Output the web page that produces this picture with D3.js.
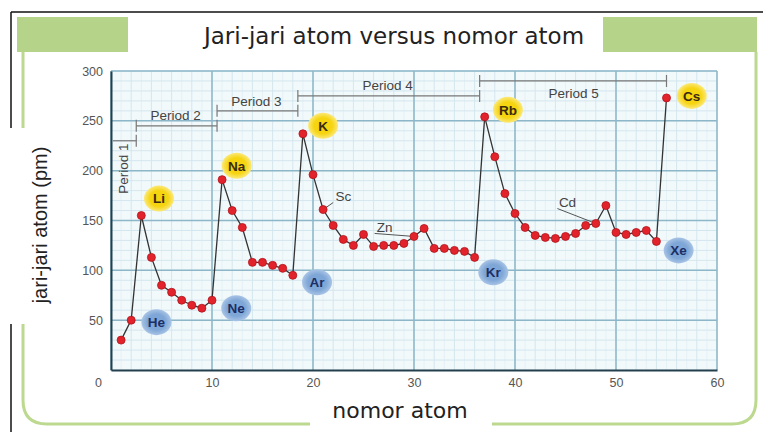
<!DOCTYPE html>
<html><head><meta charset="utf-8">
<script src="https://cdn.jsdelivr.net/npm/d3@7"></script>
<style>html,body{margin:0;padding:0;background:#fff;}svg{display:block;}</style>
</head><body>
<script>
// ---- data ----
const atomicNumbers = d3.range(1, 56);
const radii = [30,50, 155,113,85,78,70,65,62,70, 191,160,143,108,108,105,102,95,
  237,196,161,145,131,125,136,124,125,125,127,134,142,122,122,120,119,113,
  254,214,177,157,143,135,133,132,134,137,145,147,165,138,136,138,140,129,273];
const xTicks = [0,10,20,30,40,50,60];
const yTicks = [50,100,150,200,250,300];
const periodNames = ["Period 1","Period 2","Period 3","Period 4","Period 5"];
const periodStart = [0.2,2.5,10.5,18.5,36.5];
const periodEnd   = [2.5,10.5,18.5,36.5,55];
const periodLevel = [230,245,260,275,290];
const alkaliSymbols = ["Li","Na","K","Rb","Cs"];
const nobleSymbols = ["He","Ne","Ar","Kr","Xe"];
const otherSymbols = ["Sc","Zn","Cd"];
const otherZ = [21,30,48];

// label anchor positions (data coordinates) — layout only
const alkaliPos = [[4.75,172],[12.45,205],[21.0,245],[39.3,261],[57.5,275]];
const noblePos  = [[4.5,48],[12.4,62],[20.4,88],[37.85,98],[56.2,120]];
const otherPos  = [[23.0,174],[27.1,143],[45.2,168]];

const W = 763, H = 432;
const svg = d3.select("body").append("svg").attr("width", W).attr("height", H);

// frame
svg.append("line").attr("x1",11).attr("x2",W).attr("y1",12).attr("y2",12).attr("stroke","#111").attr("stroke-width",1.5);
svg.append("line").attr("x1",11).attr("x2",11).attr("y1",12).attr("y2",H).attr("stroke","#111").attr("stroke-width",1.5);
// green panel
svg.append("path")
  .attr("d", `M23,52 L23,400 Q23,424 47,424 L732,424 Q756,424 756,400 L756,52`)
  .attr("fill","none").attr("stroke","#bcd98f").attr("stroke-width",3);
svg.append("rect").attr("x",17).attr("y",17).attr("width",111).attr("height",35).attr("fill","#b5d48a");
svg.append("rect").attr("x",603).attr("y",17).attr("width",154).attr("height",35).attr("fill","#b5d48a");
svg.append("text").attr("x",394).attr("y",44).attr("text-anchor","middle")
  .attr("font-family","DejaVu Sans").attr("font-size",23).attr("fill","#222")
  .text("Jari-jari atom versus nomor atom");

// white boxes for axis titles
svg.append("rect").attr("x",8).attr("y",128).attr("width",62).attr("height",196).attr("fill","#fff");
svg.append("rect").attr("x",310).attr("y",394).attr("width",182).attr("height",38).attr("fill","#fff");

const x = d3.scaleLinear().domain([0,60]).range([111,717]);
const y = d3.scaleLinear().domain([0,300]).range([370,71]);

const g = svg.append("g");
g.append("rect").attr("x",x(0)).attr("y",y(300)).attr("width",x(60)-x(0)).attr("height",y(0)-y(300)).attr("fill","#f1f9fb");

// minor grid
g.selectAll(".vmin").data(d3.range(0,61,1)).join("line")
  .attr("x1",d=>x(d)).attr("x2",d=>x(d)).attr("y1",y(0)).attr("y2",y(300))
  .attr("stroke", d=> d%2===0 ? "#d4e6ee" : "#e6f1f5").attr("stroke-width",1);
g.selectAll(".hmin").data(d3.range(0,301,10)).join("line")
  .attr("x1",x(0)).attr("x2",x(60)).attr("y1",d=>y(d)).attr("y2",d=>y(d))
  .attr("stroke","#d4e6ee").attr("stroke-width",1);
// major grid
g.selectAll(".vmaj").data(xTicks).join("line")
  .attr("x1",d=>x(d)).attr("x2",d=>x(d)).attr("y1",y(0)).attr("y2",y(300))
  .attr("stroke","#8db7c9").attr("stroke-width",1.5);
g.selectAll(".hmaj").data(yTicks).join("line")
  .attr("x1",x(0)).attr("x2",x(60)).attr("y1",d=>y(d)).attr("y2",d=>y(d))
  .attr("stroke","#8db7c9").attr("stroke-width",1.5);

// axes
const yAxis = svg.append("g").attr("transform",`translate(${x(0)},0)`)
  .call(d3.axisLeft(y).tickValues(yTicks).tickSize(0).tickPadding(8));
const xAxis = svg.append("g").attr("transform",`translate(0,${y(0)})`)
  .call(d3.axisBottom(x).tickValues(xTicks).tickSize(0).tickPadding(8));
[yAxis,xAxis].forEach(a=>{
  a.select(".domain").attr("stroke","#24404f").attr("stroke-width",2);
  a.selectAll("text").attr("font-family","Liberation Sans").attr("font-size",12.5).attr("fill","#555");
});
xAxis.selectAll(".tick").filter(d=>d===0).select("text").attr("dx",-13);

// axis titles
svg.append("text").attr("transform","translate(47,225) rotate(-90)").attr("text-anchor","middle")
  .attr("font-family","Liberation Sans").attr("font-size",20).attr("fill","#222").text("jari-jari atom (pm)");
svg.append("text").attr("x",400).attr("y",418).attr("text-anchor","middle")
  .attr("font-family","DejaVu Sans").attr("font-size",22).attr("fill","#222").text("nomor atom");

// period brackets
const br = svg.append("g").attr("stroke","#777").attr("stroke-width",1.2);
periodNames.forEach((n,i)=>{
  const yy = y(periodLevel[i]);
  br.append("line").attr("x1",x(periodStart[i])).attr("x2",x(periodEnd[i])).attr("y1",yy).attr("y2",yy);
  if(i>0) br.append("line").attr("x1",x(periodStart[i])).attr("x2",x(periodStart[i])).attr("y1",yy-6).attr("y2",yy+6);
  br.append("line").attr("x1",x(periodEnd[i])).attr("x2",x(periodEnd[i])).attr("y1",yy-6).attr("y2",yy+6);
});
const lblFont = {family:"Liberation Sans", size:13.5};
svg.append("text").attr("transform",`translate(${x(1.2)},${y(202)}) rotate(-90)`).attr("text-anchor","middle")
  .attr("dy","0.35em").attr("font-family",lblFont.family).attr("font-size",lblFont.size).attr("fill","#444").text(periodNames[0]);
const pLabelPos = [null,[6.4,256],[14.4,270],[27.4,286],[45.8,278]];
for(let i=1;i<5;i++){
  svg.append("text").attr("x",x(pLabelPos[i][0])).attr("y",y(pLabelPos[i][1])).attr("dy","0.35em")
    .attr("text-anchor","middle").attr("font-family",lblFont.family).attr("font-size",lblFont.size)
    .attr("fill","#444").text(periodNames[i]);
}

// leaders for Sc, Zn, Cd
otherSymbols.forEach((s,i)=>{
  const z = otherZ[i];
  svg.append("line").attr("x1",x(otherPos[i][0]-1.0)).attr("y1",y(otherPos[i][1]-6))
    .attr("x2",x(z)).attr("y2",y(radii[z-1])).attr("stroke","#555").attr("stroke-width",1);
});

// line + points
const data = atomicNumbers.map((z,i)=>({z, r: radii[i]}));
svg.append("path").datum(data)
  .attr("d", d3.line().x(d=>x(d.z)).y(d=>y(d.r)))
  .attr("fill","none").attr("stroke","#333").attr("stroke-width",1.3);
svg.selectAll(".pt").data(data).join("circle")
  .attr("cx",d=>x(d.z)).attr("cy",d=>y(d.r)).attr("r",4)
  .attr("fill","#e3232b").attr("stroke","#b0141c").attr("stroke-width",0.8);

// badges
const defs = svg.append("defs");
const gy = defs.append("radialGradient").attr("id","gy");
gy.append("stop").attr("offset","60%").attr("stop-color","#f6d40f");
gy.append("stop").attr("offset","100%").attr("stop-color","#fbe97a");
const gb = defs.append("radialGradient").attr("id","gb");
gb.append("stop").attr("offset","60%").attr("stop-color","#7ea6d6");
gb.append("stop").attr("offset","100%").attr("stop-color","#a9c4e6");

function badge(sym, pos, fill, txtColor){
  const cx = x(pos[0]), cy = y(pos[1]);
  svg.append("ellipse").attr("cx",cx).attr("cy",cy).attr("rx",15).attr("ry",13).attr("fill",fill);
  svg.append("text").attr("x",cx).attr("y",cy).attr("dy","0.36em").attr("text-anchor","middle")
    .attr("font-family","Liberation Sans").attr("font-weight","bold").attr("font-size",13.5)
    .attr("fill",txtColor).text(sym);
}
alkaliSymbols.forEach((s,i)=>badge(s, alkaliPos[i], "url(#gy)", "#3a2a10"));
nobleSymbols.forEach((s,i)=>badge(s, noblePos[i], "url(#gb)", "#1c2e66"));
otherSymbols.forEach((s,i)=>{
  svg.append("text").attr("x",x(otherPos[i][0])).attr("y",y(otherPos[i][1])).attr("dy","0.35em")
    .attr("text-anchor","middle").attr("font-family","Liberation Sans").attr("font-size",13.5)
    .attr("fill","#444").text(s);
});
</script>
</body></html>
